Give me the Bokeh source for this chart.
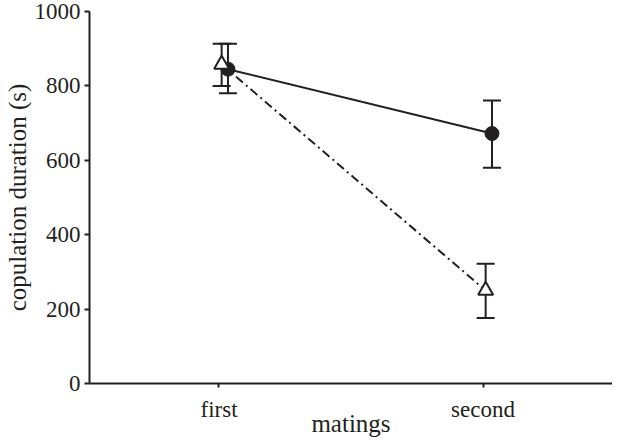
from bokeh.plotting import figure
from bokeh.models import ColumnDataSource, Whisker, TeeHead, FactorRange, Range1d, FixedTicker
from bokeh.transform import dodge
from bokeh.embed import file_html
from bokeh.resources import INLINE

matings = ["first", "second"]
circle_mean = [845, 672]
circle_low = [780, 580]
circle_high = [913, 761]
tri_mean = [858, 250]
tri_low = [800, 176]
tri_high = [913, 322]

INK = "#231f20"
FONT = "Liberation Serif"

src_c = ColumnDataSource(dict(x=matings, y=circle_mean, lo=circle_low, hi=circle_high))
src_t = ColumnDataSource(dict(x=matings, y=tri_mean, lo=tri_low, hi=tri_high))

p = figure(width=612, height=439, x_range=FactorRange(*matings, range_padding=-0.0095),
           y_range=Range1d(0, 1000), output_backend="svg", toolbar_location=None,
           min_border_left=89, min_border_top=11, min_border_right=0, min_border_bottom=50)
p.outline_line_color = None
p.grid.grid_line_color = None
p.background_fill_color = "white"
p.border_fill_color = "white"

dc = dodge("x", 0.034, range=p.x_range)
dt = dodge("x", 0.010, range=p.x_range)

for src, d in ((src_c, dc), (src_t, dt)):
    w = Whisker(source=src, base=d, upper="hi", lower="lo", line_color=INK, line_width=2,
                upper_head=TeeHead(size=18, line_color=INK, line_width=2),
                lower_head=TeeHead(size=18, line_color=INK, line_width=2))
    p.add_layout(w)

p.line(x=dc, y="y", source=src_c, line_color=INK, line_width=2)
p.line(x=dt, y="y", source=src_t, line_color=INK, line_width=2, line_dash="9 4 2 4")
p.scatter(x=dc, y="y", source=src_c, marker="circle", size=14, fill_color=INK, line_color=INK)
p.scatter(x=dt, y="y", source=src_t, marker="triangle", size=15, fill_color="white",
          line_color=INK, line_width=2)

p.yaxis.ticker = FixedTicker(ticks=[0, 200, 400, 600, 800, 1000])
p.yaxis.minor_tick_line_color = None
p.yaxis.major_tick_in = 0
p.yaxis.major_tick_out = 5
p.xaxis.major_tick_in = 0
p.xaxis.major_tick_out = 4
for ax in (p.xaxis[0], p.yaxis[0]):
    ax.axis_line_color = INK
    ax.axis_line_width = 2
    ax.major_tick_line_color = INK
    ax.major_tick_line_width = 2
    ax.major_label_text_font = FONT
    ax.major_label_text_font_size = "23px"
    ax.major_label_text_color = INK
    ax.axis_label_text_font = FONT
    ax.axis_label_text_font_size = "25px"
    ax.axis_label_text_font_style = "normal"
    ax.axis_label_text_color = INK
p.yaxis.axis_label = "copulation duration (s)"
p.xaxis.axis_label = "matings"
p.yaxis.major_label_standoff = 4
p.xaxis.major_label_standoff = 9
p.yaxis.axis_label_standoff = 1
p.xaxis.axis_label_standoff = -15

open("out.html", "w").write(file_html(p, INLINE))
